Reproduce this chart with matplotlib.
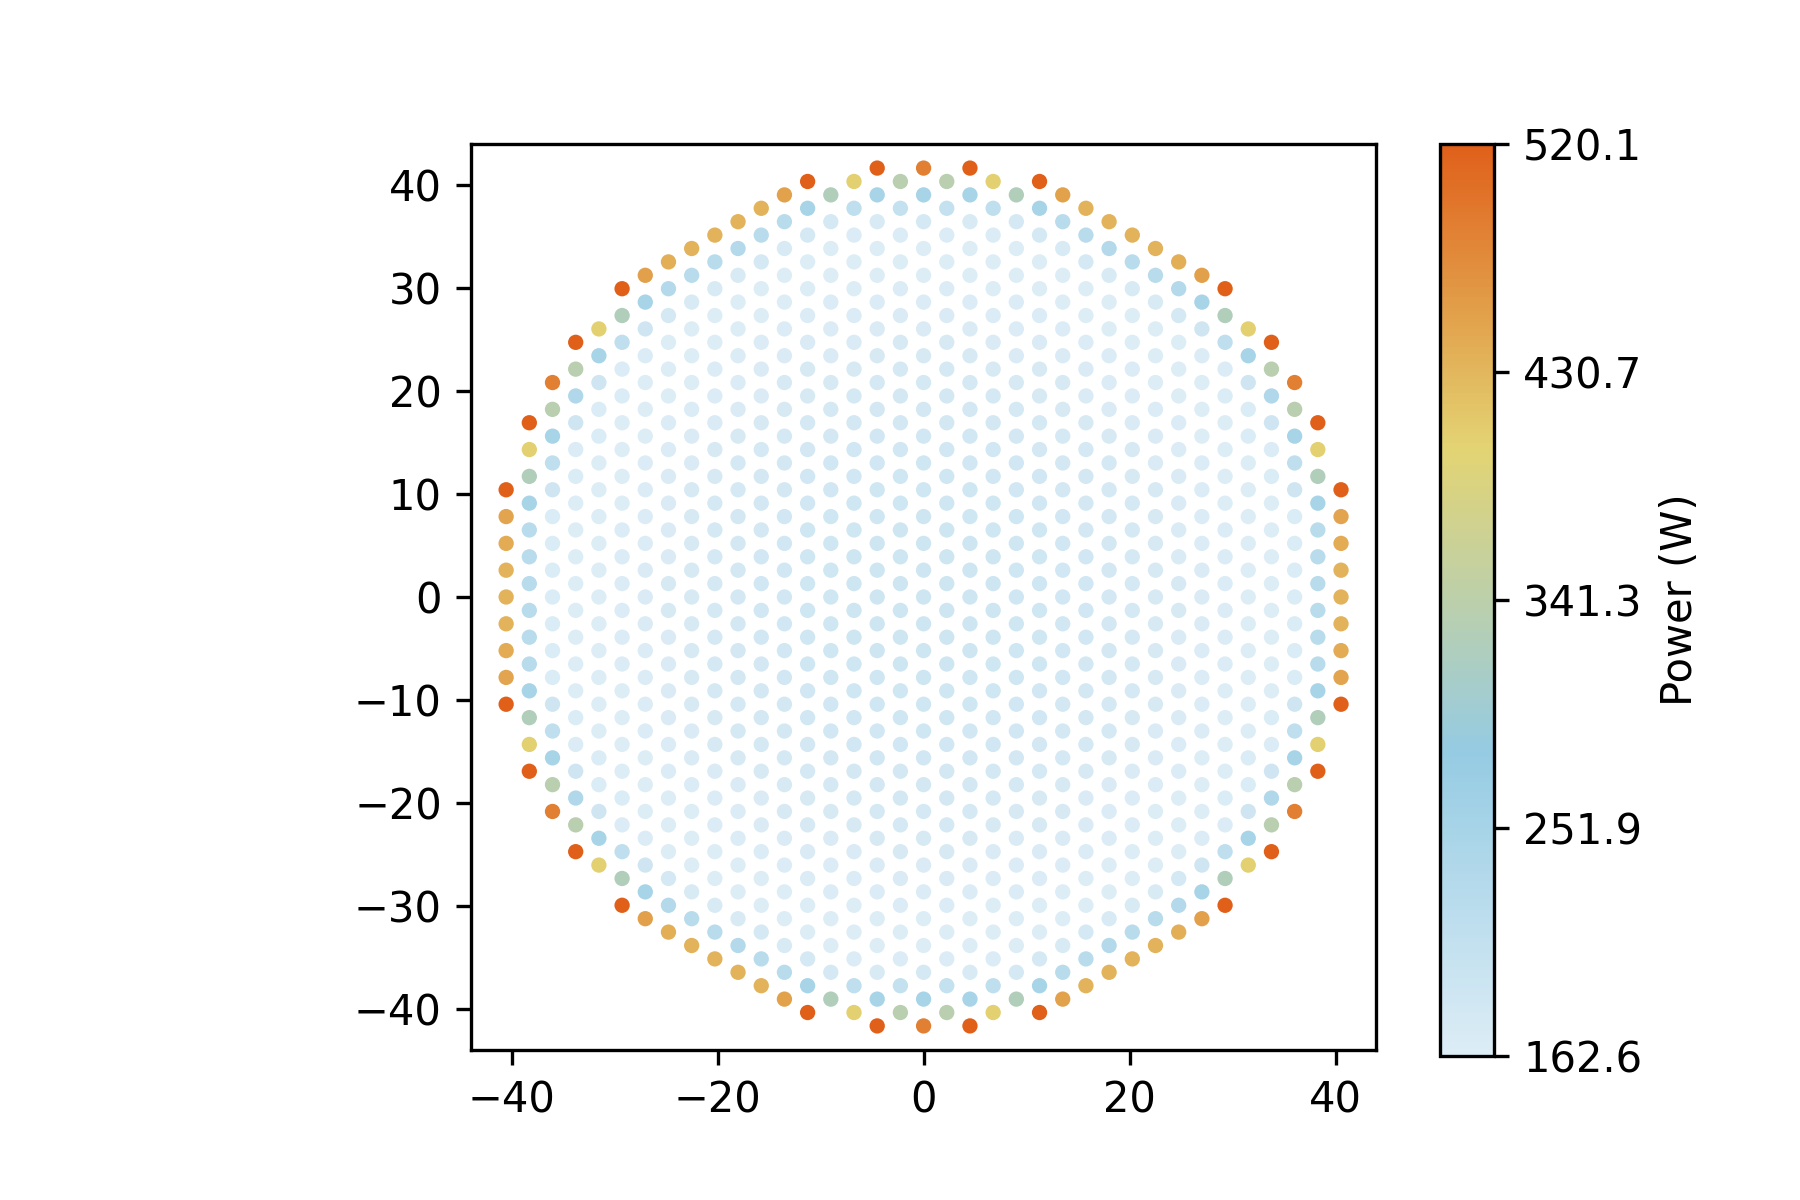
import numpy as np
import matplotlib
matplotlib.use('Agg')
from matplotlib import pyplot as plt
from matplotlib.colors import LinearSegmentedColormap, Normalize

# hexagonal pin lattice inside a circular core
pitch = 2.6
core_radius = 42.0

# power (W) of the outer pins in the upper-right quadrant, one list per column
# (column 0 is x = 0), read from the top pin of the column downwards.
# the map is mirror symmetric in x and in y.
rim_power = [
    [487.0, 250.0, 177.0],
    [336.0, 205.0, 166.0],
    [520.07, 250.0, 172.0],
    [405.0, 214.0, 166.0],
    [324.0, 177.0],
    [520.07, 250.0, 177.0],
    [452.0, 224.0, 172.0],
    [434.0, 224.0, 177.0],
    [434.0, 232.0, 172.0],
    [434.0, 224.0, 172.0],
    [434.0, 224.0, 172.0],
    [440.0, 232.0, 177.0],
    [454.0, 250.0, 187.0, 166.0],
    [520.07, 324.0, 214.0, 166.0],
    [405.0, 250.0, 187.0, 168.0],
    [520.07, 336.0, 237.0, 187.0, 166.0],
    [487.0, 336.0, 250.0, 214.0, 187.0, 168.0],
    [520.07, 405.0, 324.0, 250.0, 224.0, 224.0, 224.0],
    [520.07, 449.0, 442.0, 434.0, 434.0],
]

# inner pins: power by distance from the centre (upper edge of each band)
band_radius = [8, 13, 17, 20, 22.5, 25, 27.5, 30, 35, 38.5]
band_power = [188.0, 186.0, 183.0, 180.0, 177.0, 173.0, 169.0, 166.0, 162.56, 167.0]

cmap_colors = ['#ddedf6', '#95cbe3', '#e3d473', '#e0601a']

xs, ys, power = [], [], []
ncol = len(rim_power) - 1
for k in range(-ncol, ncol + 1):
    x = k * pitch * np.sqrt(3) / 2
    shift = 0.5 * (abs(k) % 2)
    ytop = np.floor(np.sqrt(core_radius ** 2 - x ** 2) / pitch - shift) + shift
    col = rim_power[abs(k)]
    for yu in np.arange(-ytop, ytop + 0.01, 1.0):
        y = yu * pitch
        idx = int(round(ytop - abs(yu)))
        if idx < len(col):
            p = col[idx]
        else:
            b = min(np.searchsorted(band_radius, np.hypot(x, y)), len(band_power) - 1)
            p = band_power[b]
        xs.append(x)
        ys.append(y)
        power.append(p)

cmap = LinearSegmentedColormap.from_list('pin_power', cmap_colors)
vmin, vmax = min(power), max(power)
norm = Normalize(vmin=vmin, vmax=vmax)

fig = plt.figure(figsize=(6, 4), dpi=300)
ax = fig.add_axes([0.2617, 0.125, 0.5028, 0.755])
cax = fig.add_axes([0.8, 0.12, 0.03, 0.76])

sc = ax.scatter(xs, ys, c=power, cmap=cmap, norm=norm, s=13.5, linewidths=0)
lim = 1.05 * max(np.hypot(xs, ys))
ax.set_xlim(-lim, lim)
ax.set_ylim(-lim, lim)
ax.set_xticks([-40, -20, 0, 20, 40])
ax.set_yticks(np.arange(-40, 41, 10))

cb = fig.colorbar(sc, cax=cax, ticks=np.linspace(vmin, vmax, 5), format='%.1f')
cb.set_label('Power (W)')

fig.savefig('out.png', dpi=300)
